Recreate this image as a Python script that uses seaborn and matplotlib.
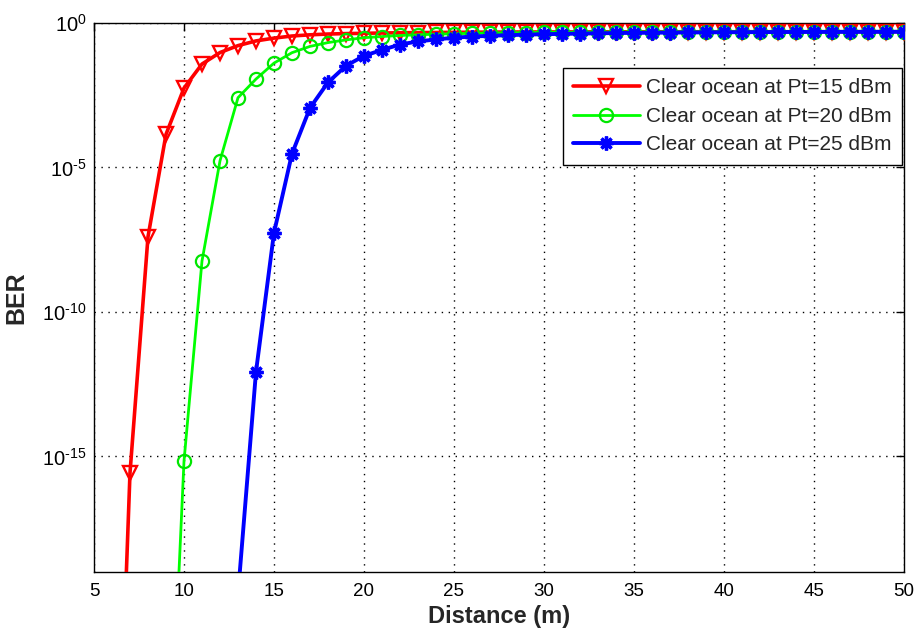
import numpy as np
import pandas as pd
import matplotlib
matplotlib.use("Agg")
import matplotlib.pyplot as plt
import seaborn as sns
from matplotlib.ticker import FixedLocator, NullLocator

# ---- data ----
dist_15 = list(range(6, 51))
ber_15 = [2.5e-33, 2.7e-16, 4.0e-8, 1.4e-4, 5.6e-3, 3.8e-2, 9.5e-2, 0.165, 0.24, 0.30,
          0.355, 0.39, 0.415, 0.43, 0.44, 0.45, 0.46, 0.465, 0.47, 0.475,
          0.48, 0.483, 0.486, 0.489, 0.49, 0.492, 0.493, 0.494, 0.495, 0.496,
          0.497, 0.497, 0.498, 0.498, 0.498, 0.499, 0.499, 0.499, 0.499, 0.5,
          0.5, 0.5, 0.5, 0.5, 0.5]

dist_20 = list(range(9, 51))
ber_20 = [1.3e-29, 6.9e-16, 5.8e-9, 1.7e-5, 2.6e-3, 1.15e-2, 4.1e-2, 9.4e-2, 0.155, 0.21,
          0.26, 0.31, 0.34, 0.37, 0.39, 0.41, 0.425, 0.44, 0.45, 0.46,
          0.467, 0.473, 0.478, 0.482, 0.485, 0.488, 0.49, 0.492, 0.494, 0.495,
          0.496, 0.497, 0.497, 0.498, 0.498, 0.499, 0.499, 0.499, 0.5, 0.5,
          0.5, 0.5]

dist_25 = list(range(13, 51))
ber_25 = [1.7e-20, 8.5e-13, 5.5e-8, 3.0e-5, 1.15e-3, 8.8e-3, 3.3e-2, 7.3e-2, 0.117, 0.18,
          0.23, 0.27, 0.31, 0.34, 0.36, 0.38, 0.395, 0.41, 0.42, 0.43,
          0.44, 0.45, 0.455, 0.46, 0.465, 0.47, 0.474, 0.478, 0.481, 0.484,
          0.487, 0.489, 0.491, 0.493, 0.494, 0.495, 0.496, 0.497]

labels = ["Clear ocean at Pt=15 dBm", "Clear ocean at Pt=20 dBm", "Clear ocean at Pt=25 dBm"]
x_ticks = [5, 10, 15, 20, 25, 30, 35, 40, 45, 50]
y_ticks = [1e-15, 1e-10, 1e-5, 1e0]
y_ticklabels = ["$10^{\u201015}$", "$10^{\u201010}$", "$10^{\u20105}$", "$10^{0}$"]

sns.set_style("white")
plt.rcParams['font.family'] = ['Liberation Sans', 'DejaVu Sans']
plt.rcParams['mathtext.fontset'] = 'custom'
plt.rcParams['mathtext.rm'] = 'Liberation Sans'
plt.rcParams['mathtext.it'] = 'Liberation Sans'

fig = plt.figure(figsize=(9.19, 6.35), dpi=100)
ax = fig.add_axes([94/919, 1-572/635, 810/919, (572-23)/635])

df15 = pd.DataFrame({"d": dist_15, "ber": ber_15})
df20 = pd.DataFrame({"d": dist_20, "ber": ber_20})
df25 = pd.DataFrame({"d": dist_25, "ber": ber_25})

sns.lineplot(data=df15, x="d", y="ber", ax=ax, color=(1, 0, 0), linewidth=2.6,
             marker="v", markersize=10.5, markerfacecolor="none", markeredgecolor=(1, 0, 0),
             markeredgewidth=1.7, label=labels[0], zorder=3)
sns.lineplot(data=df20, x="d", y="ber", ax=ax, color=(0, 1, 0), linewidth=2.0,
             marker="o", markersize=9.5, markerfacecolor="none", markeredgecolor=(0, 0.9, 0),
             markeredgewidth=1.6, label=labels[1], zorder=4)
sns.lineplot(data=df25, x="d", y="ber", ax=ax, color=(0, 0, 1), linewidth=2.8,
             marker=(8, 2, 0), markersize=10, markeredgecolor=(0, 0, 1),
             markeredgewidth=2.4, label=labels[2], zorder=5)

ax.set_yscale("log")
ax.set_xlim(5, 50)
ax.set_ylim(1e-19, 1)
ax.xaxis.set_major_locator(FixedLocator(x_ticks))
ax.yaxis.set_major_locator(FixedLocator(y_ticks))
ax.yaxis.set_minor_locator(NullLocator())
ax.set_yticklabels(y_ticklabels)
ax.set_xticklabels([str(v) for v in x_ticks])

ax.grid(True, which="major", color="black", linestyle=(0, (1, 4)), linewidth=1.0)
ax.tick_params(axis="x", which="major", direction="in", length=6, width=1,
               top=True, labelsize=13.5, colors="black", pad=8)
ax.tick_params(axis="y", which="major", direction="in", length=6, width=1,
               right=True, labelsize=14.5, colors="black", pad=5.5)
for s in ax.spines.values():
    s.set_color("black")
    s.set_linewidth(1.0)
    s.set_visible(True)

ax.set_xlabel("Distance (m)", fontsize=17, fontweight="bold")
ax.set_ylabel("BER", fontsize=18, fontweight="bold")
ax.xaxis.set_label_coords(0.5, -0.06)
ax.yaxis.set_label_coords(-0.0815, 0.5)

leg = ax.legend(loc="upper right", bbox_to_anchor=(0.9975, 0.918), fontsize=15,
                frameon=True, fancybox=False, framealpha=1, edgecolor="black",
                handlelength=3.2, borderpad=0.5, labelspacing=0.45, handletextpad=0.3,
                borderaxespad=0.0)
leg.get_frame().set_linewidth(1.0)

fig.savefig("out.png", dpi=100, facecolor="white")
